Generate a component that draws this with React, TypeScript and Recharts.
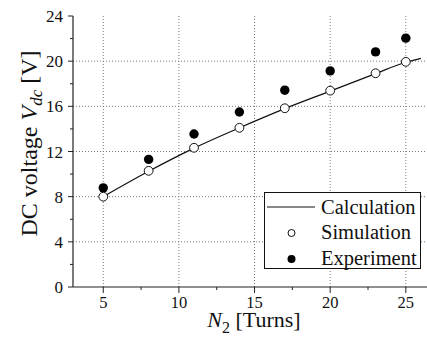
import {
  ComposedChart,
  Line,
  Scatter,
  XAxis,
  YAxis,
  ReferenceLine,
  Legend,
  Label,
} from 'recharts'

const turns = [5, 8, 11, 14, 17, 20, 23, 25]
const simulation = [8.0, 10.29, 12.33, 14.1, 15.83, 17.39, 18.93, 19.94]
const experiment = [8.78, 11.3, 13.55, 15.5, 17.43, 19.14, 20.82, 22.04]

const calcTurns = [5, 8, 11, 14, 17, 20, 23, 25, 26]
const calculation = [8.0, 10.25, 12.3, 14.1, 15.8, 17.35, 18.9, 19.9, 20.25]

const xTicks = [5, 7.5, 10, 12.5, 15, 17.5, 20, 22.5, 25]
const yTicks = [0, 2, 4, 6, 8, 10, 12, 14, 16, 18, 20, 22, 24]
const xGrid = [5, 10, 15, 20, 25]
const yGrid = [4, 8, 12, 16, 20]

const FONT = "'Liberation Serif', 'Times New Roman', serif"

const simData = turns.map((n, i) => ({ n, v: simulation[i] }))
const expData = turns.map((n, i) => ({ n, v: experiment[i] }))
const calcData = calcTurns.map((n, i) => ({ n, v: calculation[i] }))

const textStyle = { fontFamily: FONT }

function XTick({ x, y, payload }: any) {
  const major = payload.value % 5 === 0
  return (
    <g>
      <line x1={x} x2={x} y1={y} y2={y + (major ? 6 : 3)} stroke="#222" strokeWidth={1} />
      {major && (
        <text x={x} y={y + 21} textAnchor="middle" fontSize={16.5} style={textStyle} fill="#111">
          {payload.value}
        </text>
      )}
    </g>
  )
}

function YTick({ x, y, payload }: any) {
  const major = payload.value % 4 === 0
  return (
    <g>
      <line x1={x - (major ? 5 : 3)} x2={x} y1={y} y2={y} stroke="#222" strokeWidth={1} />
      {major && (
        <text x={x - 10} y={y + 6} textAnchor="end" fontSize={17} style={textStyle} fill="#111">
          {payload.value}
        </text>
      )}
    </g>
  )
}

function XTitle({ viewBox }: any) {
  const { x, y, width } = viewBox
  return (
    <text x={x + width / 2 + 4} y={y + 40} textAnchor="middle" fontSize={22} style={textStyle} fill="#111">
      <tspan fontStyle="italic">N</tspan>
      <tspan fontSize={16} dy={6}>2</tspan>
      <tspan dy={-6}> [Turns]</tspan>
    </text>
  )
}

function YTitle({ viewBox }: any) {
  const { x, y, height } = viewBox
  const cx = x + 37
  const cy = y + height / 2 - 8
  return (
    <text
      x={cx}
      y={cy}
      transform={`rotate(-90 ${cx} ${cy})`}
      textAnchor="middle"
      fontSize={24}
      style={textStyle}
      fill="#111"
    >
      DC voltage <tspan fontStyle="italic">V</tspan>
      <tspan fontStyle="italic" fontSize={17} dy={5}>dc</tspan>
      <tspan dy={-5}> [V]</tspan>
    </text>
  )
}

function OpenDot({ cx, cy }: any) {
  return <circle cx={cx} cy={cy} r={4.4} fill="#fff" stroke="#111" strokeWidth={1} />
}

function FilledDot({ cx, cy }: any) {
  return <circle cx={cx} cy={cy} r={4.7} fill="#000" />
}

function LegendBox() {
  const rows = [
    { name: 'Calculation', kind: 'line' },
    { name: 'Simulation', kind: 'open' },
    { name: 'Experiment', kind: 'filled' },
  ]
  return (
    <div
      style={{
        width: 157,
        height: 77,
        border: '1px solid #111',
        background: '#fff',
        boxSizing: 'border-box',
        fontFamily: FONT,
        fontSize: 20.5,
        color: '#111',
        paddingTop: 1,
      }}
    >
      {rows.map((r) => (
        <div key={r.name} style={{ display: 'flex', alignItems: 'center', height: 25.5 }}>
          <svg width={56} height={20}>
            {r.kind === 'line' && <line x1={2} x2={50} y1={10} y2={10} stroke="#111" strokeWidth={1.2} />}
            {r.kind === 'open' && <circle cx={26.5} cy={11} r={3.5} fill="#fff" stroke="#111" strokeWidth={1} />}
            {r.kind === 'filled' && <circle cx={26.5} cy={11} r={4} fill="#000" />}
          </svg>
          <span style={{ lineHeight: 1 }}>{r.name}</span>
        </div>
      ))}
    </div>
  )
}

export default function App() {
  return (
    <div style={{ position: 'absolute', left: 0, top: 0, width: 427, height: 339, background: '#fff' }}>
      <ComposedChart width={427} height={339} margin={{ top: 16, right: 0, bottom: 0, left: 0 }}>
        <XAxis
          dataKey="n"
          type="number"
          domain={[3, 26.4]}
          ticks={xTicks}
          interval={0}
          allowDataOverflow
          height={52}
          tickSize={0}
          tickMargin={0}
          tickLine={false}
          tick={<XTick />}
          axisLine={{ stroke: '#222', strokeWidth: 1.2 }}
        >
          <Label content={<XTitle />} />
        </XAxis>
        <YAxis
          dataKey="v"
          type="number"
          domain={[0, 24]}
          ticks={yTicks}
          interval={0}
          width={73}
          tickSize={0}
          tickMargin={0}
          tickLine={false}
          tick={<YTick />}
          axisLine={{ stroke: '#222', strokeWidth: 1.2 }}
        >
          <Label content={<YTitle />} />
        </YAxis>
        {xGrid.map((v) => (
          <ReferenceLine key={'x' + v} x={v} stroke="#777" strokeDasharray="1 2" strokeWidth={1} />
        ))}
        {yGrid.map((v) => (
          <ReferenceLine key={'y' + v} y={v} stroke="#777" strokeDasharray="1 2" strokeWidth={1} />
        ))}
        <Line
          data={calcData}
          dataKey="v"
          type="monotone"
          stroke="#111"
          strokeWidth={1.2}
          dot={false}
          activeDot={false}
          isAnimationActive={false}
        />
        <Scatter data={expData} dataKey="v" shape={<FilledDot />} isAnimationActive={false} />
        <Scatter data={simData} dataKey="v" shape={<OpenDot />} isAnimationActive={false} />
        <Legend
          layout="vertical"
          align="center"
          verticalAlign="middle"
          content={<LegendBox />}
          wrapperStyle={{ left: 264, top: 192, width: 157, height: 77 }}
        />
      </ComposedChart>
    </div>
  )
}
